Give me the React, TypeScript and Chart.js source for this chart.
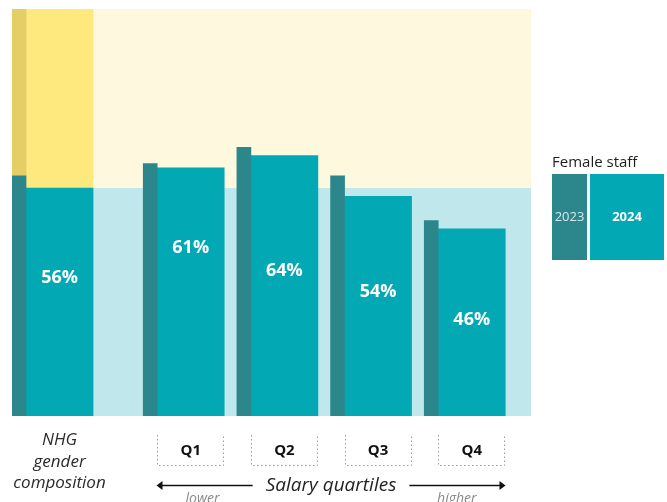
import React, { useEffect, useRef } from "react";
import { Chart, registerables } from "chart.js";

Chart.register(...registerables);

const categories = ["NHG gender composition", "Q1", "Q2", "Q3", "Q4"];
const female2023 = [59, 62, 66, 59, 48];
const female2024 = [56, 61, 64, 54, 46];
const legendYears = ["2023", "2024"];
const legendTitle = "Female staff";
const axisTitle = "Salary quartiles";
const lowerLabel = "lower";
const higherLabel = "higher";

const C = {
  teal24: "#03a8b5",
  teal23: "#2c878d",
  cyanBg: "#c0e8ec",
  yellowBg: "#fef8df",
  yellow24: "#fde97d",
  yellow23: "#e4ce66",
};

const FONT = "'Open Sans', 'DejaVu Sans', sans-serif";

// slot position of each category on the linear x-axis (NHG column set apart)
const slotOf = (i: number) => (i === 0 ? 0 : i + 0.4);
// vertical anchor (in % units) for the value labels
const labelAnchor = [34, 41.4, 35.7, 30.6, 23.7];

const bgPlugin = {
  id: "bgPlugin",
  beforeDatasetsDraw(chart: any) {
    const { ctx, chartArea, scales } = chart;
    const ySplit = scales.y.getPixelForValue(female2024[0]);
    ctx.save();
    ctx.fillStyle = C.yellowBg;
    ctx.fillRect(chartArea.left, chartArea.top, chartArea.right - chartArea.left, ySplit - chartArea.top);
    ctx.fillStyle = C.cyanBg;
    ctx.fillRect(chartArea.left, ySplit, chartArea.right - chartArea.left, chartArea.bottom - ySplit);
    ctx.restore();
  },
};

const textPlugin = {
  id: "textPlugin",
  afterDatasetsDraw(chart: any) {
    const { ctx, chartArea, scales } = chart;
    const meta24 = chart.getDatasetMeta(2);
    const bottom = chartArea.bottom;
    ctx.save();
    // value labels
    ctx.fillStyle = "#ffffff";
    ctx.font = `bold 18px ${FONT}`;
    ctx.textAlign = "center";
    ctx.textBaseline = "middle";
    female2024.forEach((v, i) => {
      const el = meta24.data[i];
      ctx.fillText(`${v}%`, el.x, scales.y.getPixelForValue(labelAnchor[i]));
    });

    // NHG label
    ctx.fillStyle = "#2a2a2a";
    ctx.font = `italic 17px ${FONT}`;
    ctx.textBaseline = "alphabetic";
    const nx = meta24.data[0].x;
    const words = ["NHG", "gender", "composition"];
    words.forEach((w, k) => ctx.fillText(w, nx, bottom + 29 + k * 21.5));

    // Quartile boxes
    let qLeft = 0;
    let qRight = 0;
    for (let i = 1; i < categories.length; i++) {
      const el = meta24.data[i];
      const l = Math.round(el.x - el.width / 2) + 0.5;
      const r = Math.round(el.x + el.width / 2) - 0.5;
      if (i === 1) qLeft = l;
      if (i === categories.length - 1) qRight = r;
      const t = bottom + 19;
      const b = bottom + 49.5;
      ctx.strokeStyle = "#9a9a9a";
      ctx.lineWidth = 1;
      ctx.setLineDash([1.5, 2.5]);
      ctx.beginPath();
      ctx.moveTo(l, t);
      ctx.lineTo(l, b);
      ctx.lineTo(r, b);
      ctx.lineTo(r, t);
      ctx.stroke();
      ctx.setLineDash([]);
      ctx.fillStyle = "#111";
      ctx.font = `bold 15px ${FONT}`;
      ctx.textBaseline = "middle";
      ctx.fillText(categories[i], el.x, bottom + 35);
    }

    // Axis arrow
    const ay = bottom + 69.5;
    const mid = (qLeft + qRight) / 2;
    ctx.font = `italic 19px ${FONT}`;
    ctx.fillStyle = "#222";
    ctx.textBaseline = "middle";
    ctx.fillText(axisTitle, mid, ay);
    const tw = ctx.measureText(axisTitle).width;
    ctx.strokeStyle = "#111";
    ctx.lineWidth = 1.3;
    ctx.beginPath();
    ctx.moveTo(qLeft + 4, ay);
    ctx.lineTo(mid - tw / 2 - 13, ay);
    ctx.moveTo(mid + tw / 2 + 13, ay);
    ctx.lineTo(qRight - 4, ay);
    ctx.stroke();
    ctx.fillStyle = "#111";
    ctx.beginPath();
    ctx.moveTo(qLeft - 1, ay);
    ctx.lineTo(qLeft + 5, ay - 4.5);
    ctx.lineTo(qLeft + 5, ay + 4.5);
    ctx.closePath();
    ctx.fill();
    ctx.beginPath();
    ctx.moveTo(qRight + 1, ay);
    ctx.lineTo(qRight - 5, ay - 4.5);
    ctx.lineTo(qRight - 5, ay + 4.5);
    ctx.closePath();
    ctx.fill();

    ctx.font = `italic 14px ${FONT}`;
    ctx.fillStyle = "#8a8a8a";
    ctx.textBaseline = "alphabetic";
    ctx.textAlign = "left";
    ctx.fillText(lowerLabel, qLeft + 28, bottom + 87);
    ctx.textAlign = "right";
    ctx.fillText(higherLabel, qRight - 28, bottom + 87);

    // Legend
    const lx = chartArea.right + 21;
    ctx.textAlign = "left";
    ctx.fillStyle = "#1e1e1e";
    ctx.font = `15px ${FONT}`;
    ctx.textBaseline = "alphabetic";
    ctx.fillText(legendTitle, lx, 167);
    const by = 174;
    const bh = 86;
    ctx.fillStyle = C.teal23;
    ctx.fillRect(lx, by, 35, bh);
    ctx.fillStyle = C.teal24;
    ctx.fillRect(lx + 38, by, 74, bh);
    ctx.textAlign = "center";
    ctx.textBaseline = "middle";
    ctx.fillStyle = "rgba(255,255,255,0.8)";
    ctx.font = `13px ${FONT}`;
    ctx.fillText(legendYears[0], lx + 17.5, by + bh / 2);
    ctx.fillStyle = "#ffffff";
    ctx.font = `bold 13px ${FONT}`;
    ctx.fillText(legendYears[1], lx + 38 + 37, by + bh / 2);
    ctx.restore();
  },
};

export default function App() {
  const ref = useRef<HTMLCanvasElement>(null);
  useEffect(() => {
    if (!ref.current) return;
    const pts = (arr: (number | null)[]) => arr.map((y, i) => ({ x: slotOf(i), y }));
    const male2023 = categories.map((_, i) => (i === 0 ? 100 - female2023[0] : null));
    const male2024 = categories.map((_, i) => (i === 0 ? 100 - female2024[0] : null));
    const chart = new Chart(ref.current, {
      type: "bar",
      data: {
        datasets: [
          { label: "2023", data: pts(female2023), stack: "a", backgroundColor: C.teal23, barThickness: 14 },
          { label: "2023 other", data: pts(male2023), stack: "a", backgroundColor: C.yellow23, barThickness: 14 },
          { label: "2024", data: pts(female2024), stack: "b", backgroundColor: C.teal24, barThickness: 67 },
          { label: "2024 other", data: pts(male2024), stack: "b", backgroundColor: C.yellow24, barThickness: 67 },
        ] as any,
      },
      options: {
        animation: false,
        responsive: true,
        maintainAspectRatio: false,
        layout: { padding: { left: 12, top: 9, right: 136, bottom: 86 } },
        plugins: { legend: { display: false }, tooltip: { enabled: false } },
        scales: {
          x: { type: "linear", min: -0.15, max: 5.39, offset: false, grid: { offset: false }, display: false },
          y: { min: 0, max: 100, stacked: true, display: false },
        },
      } as any,
      plugins: [bgPlugin, textPlugin],
    });
    return () => chart.destroy();
  }, []);
  return (
    <div style={{ position: "fixed", left: 0, top: 0, width: 667, height: 502, background: "#fff" }}>
      <canvas ref={ref} />
    </div>
  );
}
